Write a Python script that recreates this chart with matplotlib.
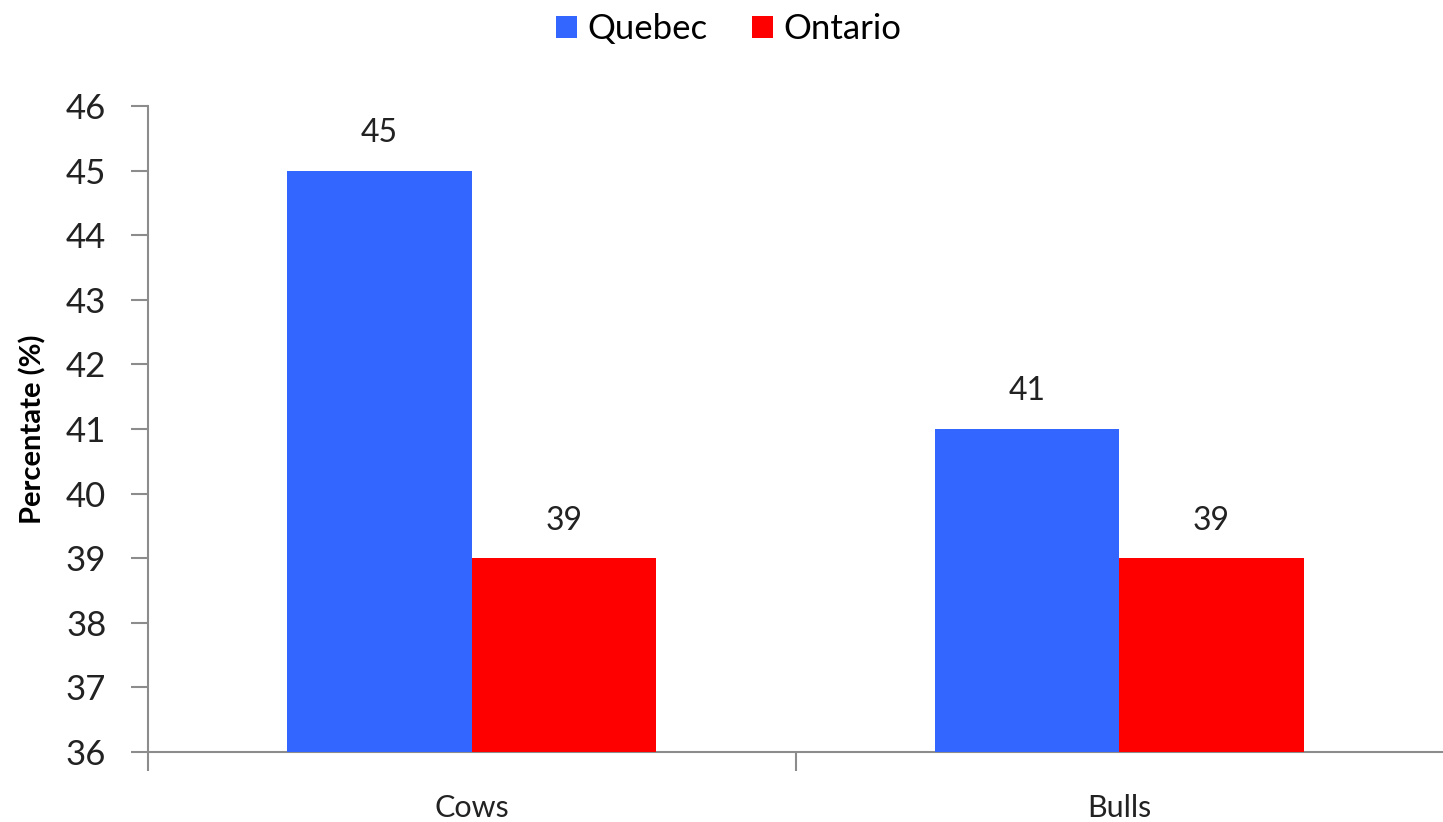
import matplotlib
matplotlib.use("Agg")
import matplotlib.pyplot as plt
import numpy as np

# data
categories = ["Cows", "Bulls"]
quebec = [45, 41]
ontario = [39, 39]
y_ticks = [36, 37, 38, 39, 40, 41, 42, 43, 44, 45, 46]

plt.rcParams["font.family"] = ["Lato", "DejaVu Sans"]

fig = plt.figure(figsize=(14.43, 8.22), dpi=100)
ax = fig.add_axes([148 / 1443, 1 - 752 / 822, 1 - 148 / 1443, (752 - 106) / 822])

x = np.arange(len(categories))
w = 0.285
ax.bar(x - w / 2, quebec, w, bottom=0, color="#3366FF", label="Quebec", zorder=3)
ax.bar(x + w / 2, ontario, w, bottom=0, color="#FF0000", label="Ontario", zorder=3)

for xi, v in zip(x - w / 2, quebec):
    ax.text(xi, v + 0.35, f"{v}", ha="center", va="bottom", fontsize=23, color="#222222")
for xi, v in zip(x + w / 2, ontario):
    ax.text(xi, v + 0.35, f"{v}", ha="center", va="bottom", fontsize=23, color="#222222")

ax.set_ylim(36, 46)
ax.set_xlim(-0.5, 1.5)
ax.set_yticks(y_ticks)
ax.set_yticklabels([str(t) for t in y_ticks], fontsize=25, color="#222222")
ax.set_xticks(x)
ax.set_xticklabels(categories, fontsize=22, color="#222222")
ax.set_xticks([-0.5, 0.5], minor=True)
ax.tick_params(axis="x", which="major", length=0, pad=30)
ax.tick_params(axis="x", which="minor", length=14, color="#8c8c8c", width=1.5)
ax.tick_params(axis="y", length=12, color="#8c8c8c", width=1.5, pad=18)

for s in ["top", "right"]:
    ax.spines[s].set_visible(False)
for s in ["left", "bottom"]:
    ax.spines[s].set_color("#8c8c8c")
    ax.spines[s].set_linewidth(1.5)

ax.set_ylabel("Percentate (%)", fontsize=21, fontweight="bold", labelpad=14)

fig.legend(loc="upper center", bbox_to_anchor=(0.505, 1.022), ncol=2, frameon=False,
           fontsize=25, handlelength=0.6, handleheight=0.6, handletextpad=0.3,
           columnspacing=1.3)

fig.savefig("out.png", dpi=100)
